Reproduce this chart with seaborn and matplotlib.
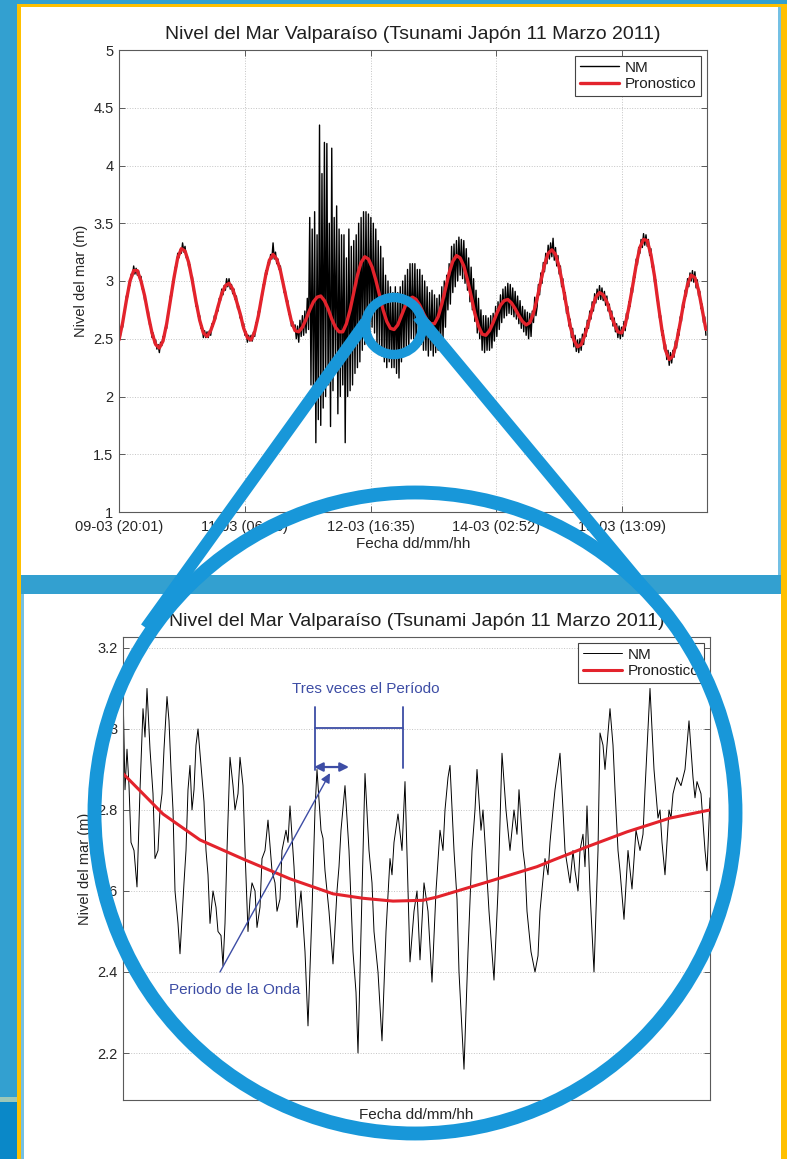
import numpy as np
import pandas as pd
import matplotlib
matplotlib.use("Agg")
import matplotlib.pyplot as plt
import seaborn as sns
from matplotlib.patches import Rectangle, Ellipse
from matplotlib.lines import Line2D
from matplotlib.ticker import FuncFormatter

# ---------------- data ----------------
title_text = "Nivel del Mar Valparaíso (Tsunami Japón 11 Marzo 2011)"
ylabel_text = "Nivel del mar (m)"
xlabel_text = "Fecha dd/mm/hh"
series_names = ["NM", "Pronostico"]

top_tick_hours = [0, 34.283, 68.567, 102.85, 137.133]
top_tick_labels = ["09-03 (20:01)", "11-03 (06:18)", "12-03 (16:35)",
                   "14-03 (02:52)", "15-03 (13:09)"]
top_yticks = [1, 1.5, 2, 2.5, 3, 3.5, 4, 4.5, 5]
zoom_yticks = [2.2, 2.4, 2.6, 2.8, 3.0, 3.2]

# Pronostico, one value per hour from 09-03 20:01
forecast_hourly = [
    2.49, 2.64, 2.83, 3.00, 3.09, 3.09, 3.00, 2.87, 2.70, 2.55,
    2.45, 2.42, 2.48, 2.63, 2.83, 3.03, 3.20, 3.28, 3.26, 3.16,
    3.00, 2.82, 2.66, 2.55, 2.52, 2.57, 2.66, 2.78, 2.89, 2.96,
    2.98, 2.93, 2.83, 2.72, 2.59, 2.51, 2.49, 2.56, 2.70, 2.88,
    3.05, 3.18, 3.23, 3.19, 3.09, 2.94, 2.79, 2.65, 2.57, 2.56,
    2.60, 2.67, 2.75, 2.82, 2.86, 2.87, 2.83, 2.76, 2.67, 2.60,
    2.56, 2.56, 2.63, 2.75, 2.90, 3.05, 3.16, 3.21, 3.19, 3.12,
    3.01, 2.88, 2.75, 2.65, 2.59, 2.58, 2.62, 2.70, 2.78, 2.84,
    2.86, 2.84, 2.79, 2.72, 2.66, 2.63, 2.63, 2.69, 2.80, 2.93,
    3.07, 3.17, 3.22, 3.20, 3.13, 3.01, 2.87, 2.72, 2.61, 2.54,
    2.53, 2.57, 2.64, 2.72, 2.79, 2.83, 2.84, 2.81, 2.76, 2.70,
    2.65, 2.62, 2.64, 2.72, 2.85, 3.00, 3.14, 3.24, 3.27, 3.23,
    3.12, 2.96, 2.78, 2.61, 2.49, 2.43, 2.45, 2.53, 2.64, 2.76,
    2.86, 2.90, 2.88, 2.82, 2.72, 2.63, 2.56, 2.55, 2.62, 2.77,
    2.95, 3.14, 3.29, 3.36, 3.35, 3.23, 3.04, 2.80, 2.58, 2.40,
    2.32, 2.35, 2.47, 2.64, 2.82, 2.97, 3.05, 3.03, 2.92, 2.75,
    2.58,
]

# NM (measured sea level), three readings per hour (every 20 min)
nm_level = [
    2.53, 2.51, 2.61, 2.60, 2.73, 2.75, 2.87, 2.86, 2.96, 2.96, 3.06, 3.04,
    3.13, 3.06, 3.11, 3.05, 3.09, 3.01, 3.04, 2.93, 2.93, 2.83, 2.84, 2.74,
    2.74, 2.62, 2.62, 2.51, 2.55, 2.46, 2.49, 2.41, 2.45, 2.38, 2.47, 2.44,
    2.52, 2.50, 2.60, 2.59, 2.73, 2.74, 2.87, 2.87, 2.98, 2.99, 3.12, 3.12,
    3.24, 3.20, 3.27, 3.24, 3.33, 3.25, 3.30, 3.20, 3.21, 3.12, 3.14, 3.03,
    3.04, 2.91, 2.90, 2.78, 2.80, 2.69, 2.70, 2.59, 2.61, 2.51, 2.57, 2.51,
    2.56, 2.51, 2.57, 2.53, 2.63, 2.61, 2.70, 2.67, 2.76, 2.74, 2.85, 2.83,
    2.93, 2.88, 2.96, 2.92, 3.02, 2.95, 3.02, 2.93, 2.97, 2.89, 2.93, 2.84,
    2.87, 2.76, 2.78, 2.68, 2.71, 2.61, 2.63, 2.53, 2.56, 2.47, 2.53, 2.48,
    2.53, 2.48, 2.56, 2.52, 2.64, 2.63, 2.74, 2.73, 2.84, 2.84, 2.97, 2.97,
    3.09, 3.06, 3.16, 3.14, 3.23, 3.19, 3.33, 3.19, 3.25, 3.15, 3.19, 3.10,
    3.13, 3.01, 3.01, 2.90, 2.92, 2.82, 2.83, 2.71, 2.72, 2.61, 2.65, 2.58,
    2.62, 2.50, 2.61, 2.47, 2.66, 2.52, 2.70, 2.53, 2.74, 2.55, 2.85, 2.58,
    3.55, 2.10, 3.45, 1.95, 3.60, 1.60, 3.40, 1.80, 4.35, 1.75, 3.93, 1.90,
    4.20, 2.00, 4.19, 2.10, 3.50, 1.74, 4.15, 2.05, 3.55, 2.30, 3.65, 1.85,
    3.45, 2.00, 3.40, 2.10, 3.40, 1.60, 3.20, 2.00, 3.45, 2.05, 3.30, 2.10,
    3.35, 2.20, 3.40, 2.25, 3.50, 2.30, 3.55, 2.40, 3.60, 2.45, 3.60, 2.50,
    3.58, 2.55, 3.55, 2.60, 3.50, 2.55, 3.45, 2.45, 3.35, 2.40, 3.30, 2.35,
    3.20, 2.30, 3.05, 2.25, 3.00, 2.30, 2.95, 2.25, 2.90, 2.25, 2.95, 2.20,
    2.90, 2.16, 2.95, 2.30, 3.00, 2.35, 3.05, 2.40, 3.10, 2.40, 3.15, 2.50,
    3.15, 2.50, 3.15, 2.45, 3.10, 2.50, 3.10, 2.45, 3.05, 2.40, 3.00, 2.40,
    2.95, 2.35, 2.90, 2.40, 2.92, 2.35, 2.88, 2.38, 2.85, 2.40, 2.88, 2.45,
    2.95, 2.50, 3.00, 2.60, 3.05, 2.75, 3.15, 2.80, 3.30, 2.90, 3.32, 2.95,
    3.35, 3.00, 3.38, 3.05, 3.36, 3.02, 3.35, 2.98, 3.28, 2.92, 3.20, 2.82,
    3.12, 2.75, 3.02, 2.65, 2.92, 2.55, 2.85, 2.50, 2.75, 2.40, 2.70, 2.38,
    2.70, 2.40, 2.68, 2.40, 2.70, 2.42, 2.72, 2.48, 2.78, 2.52, 2.82, 2.58,
    2.88, 2.64, 2.93, 2.68, 2.95, 2.70, 2.98, 2.72, 2.97, 2.71, 2.94, 2.69,
    2.91, 2.67, 2.87, 2.63, 2.83, 2.59, 2.78, 2.56, 2.75, 2.53, 2.73, 2.50,
    2.72, 2.52, 2.74, 2.64, 2.86, 2.70, 2.78, 2.97, 2.88, 3.07, 2.98, 3.16,
    3.08, 3.24, 3.15, 3.31, 3.19, 3.33, 3.21, 3.37, 3.18, 3.29, 3.13, 3.22,
    3.06, 3.13, 2.95, 3.02, 2.84, 2.90, 2.72, 2.78, 2.61, 2.67, 2.51, 2.59,
    2.43, 2.53, 2.39, 2.49, 2.38, 2.50, 2.40, 2.54, 2.45, 2.59, 2.52, 2.66,
    2.59, 2.74, 2.67, 2.82, 2.74, 2.89, 2.81, 2.93, 2.84, 2.96, 2.84, 2.94,
    2.83, 2.91, 2.79, 2.87, 2.74, 2.80, 2.67, 2.74, 2.61, 2.68, 2.56, 2.63,
    2.51, 2.61, 2.50, 2.60, 2.52, 2.65, 2.57, 2.72, 2.67, 2.82, 2.78, 2.94,
    2.90, 3.06, 3.03, 3.19, 3.14, 3.29, 3.24, 3.36, 3.29, 3.41, 3.31, 3.40,
    3.30, 3.36, 3.22, 3.28, 3.12, 3.15, 2.99, 3.01, 2.83, 2.85, 2.68, 2.70,
    2.53, 2.57, 2.41, 2.45, 2.32, 2.40, 2.27, 2.38, 2.29, 2.40, 2.34, 2.48,
    2.42, 2.58, 2.53, 2.69, 2.65, 2.81, 2.77, 2.92, 2.87, 3.02, 2.95, 3.07,
    3.00, 3.09, 2.99, 3.08, 2.94, 3.01, 2.87, 2.91, 2.76, 2.80, 2.64, 2.69,
    2.53,
]

# Zoomed window (bottom panel): minutes from window start and NM readings
zoom_nm_min = [
    0, 2, 4, 6, 8, 11, 14, 17, 20, 22,
    24, 27, 30, 32, 35, 37, 39, 41, 44, 46,
    48, 50, 52, 55, 57, 61, 63, 65, 67, 69,
    71, 73, 75, 79, 81, 83, 85, 87, 90, 93,
    95, 98, 100, 102, 104, 107, 110, 112, 115, 117,
    120, 122, 125, 127, 129, 132, 134, 137, 139, 142,
    145, 149, 152, 154, 157, 159, 163, 165, 167, 171,
    174, 178, 182, 185, 189, 192, 194, 198, 200, 202,
    206, 210, 214, 216, 218, 222, 226, 230, 233, 235,
    239, 242, 246, 249, 251, 255, 259, 263, 267, 269,
    271, 275, 279, 282, 285, 287, 291, 294, 297, 301,
    305, 309, 313, 317, 320, 322, 325, 327, 331, 334,
    336, 341, 345, 349, 352, 354, 358, 360, 362, 366,
    371, 375, 379, 383, 387, 391, 394, 396, 400, 402,
    404, 408, 412, 415, 417, 420, 422, 425, 427, 430,
    432, 437, 440, 442, 447, 450, 452, 455, 457, 460,
    462, 464, 467, 471, 475, 477, 480, 482, 487, 490,
    492, 495, 497, 501, 505, 509, 513, 517, 520, 522,
    527, 531, 535, 537, 539, 542, 546, 548, 550, 554,
    558, 562, 566, 570, 572, 574, 578, 582, 584, 587,
]
zoom_nm = [
    3.10, 2.85, 2.95, 2.86, 2.72, 2.70, 2.61, 2.85, 3.05, 2.98,
    3.10, 2.95, 2.84, 2.68, 2.70, 2.80, 2.84, 2.95, 3.08, 3.02,
    2.90, 2.80, 2.60, 2.52, 2.445, 2.62, 2.70, 2.85, 2.91, 2.80,
    2.85, 2.96, 3.00, 2.88, 2.82, 2.70, 2.64, 2.52, 2.60, 2.56,
    2.50, 2.49, 2.415, 2.52, 2.70, 2.93, 2.86, 2.80, 2.84, 2.93,
    2.86, 2.70, 2.50, 2.58, 2.62, 2.60, 2.51, 2.56, 2.68, 2.70,
    2.775, 2.65, 2.62, 2.55, 2.58, 2.70, 2.75, 2.72, 2.81, 2.66,
    2.51, 2.60, 2.45, 2.267, 2.55, 2.80, 2.90, 2.75, 2.73, 2.65,
    2.55, 2.42, 2.60, 2.66, 2.75, 2.86, 2.70, 2.45, 2.35, 2.20,
    2.60, 2.89, 2.70, 2.62, 2.50, 2.40, 2.23, 2.50, 2.68, 2.64,
    2.72, 2.79, 2.70, 2.87, 2.60, 2.425, 2.55, 2.60, 2.43, 2.62,
    2.55, 2.375, 2.60, 2.75, 2.70, 2.80, 2.88, 2.91, 2.70, 2.58,
    2.40, 2.16, 2.45, 2.70, 2.80, 2.90, 2.75, 2.80, 2.72, 2.55,
    2.38, 2.60, 2.94, 2.80, 2.70, 2.80, 2.74, 2.85, 2.70, 2.66,
    2.55, 2.45, 2.40, 2.44, 2.55, 2.63, 2.68, 2.64, 2.72, 2.80,
    2.85, 2.94, 2.80, 2.70, 2.62, 2.70, 2.65, 2.60, 2.70, 2.74,
    2.66, 2.81, 2.60, 2.40, 2.70, 2.99, 2.96, 2.90, 3.05, 2.96,
    2.85, 2.70, 2.65, 2.53, 2.70, 2.605, 2.75, 2.70, 2.74, 2.85,
    3.10, 2.90, 2.78, 2.80, 2.72, 2.64, 2.80, 2.78, 2.84, 2.88,
    2.86, 2.90, 3.02, 2.88, 2.83, 2.87, 2.84, 2.70, 2.65, 2.83,
]
zoom_fc_min = [0, 40, 77, 120, 167, 210, 240, 270, 300, 314, 364, 414, 431, 464,
               504, 547, 587]
zoom_fc = [2.89, 2.79, 2.726, 2.679, 2.63, 2.593, 2.582, 2.575, 2.577, 2.585,
           2.622, 2.66, 2.677, 2.709, 2.746, 2.78, 2.80]

# ---------------- style ----------------
W, H = 787, 1159
BG = "#33A0D0"
YEL = "#FFC000"
RING = "#1897D9"
RED = "#E3232C"
ANN = "#3D4DA5"
EDGE = "#5a5a5a"

sns.set_theme(style="white")
plt.rcParams['font.family'] = ['Liberation Sans', 'DejaVu Sans']

fig = plt.figure(figsize=(W / 100, H / 100), dpi=100)
fig.patch.set_facecolor(BG)


def fx(x):
    return x / W


def fy(y):
    return 1 - y / H


def rect(x0, y0, x1, y1, color, z=-5):
    fig.add_artist(Rectangle((fx(x0), fy(y1)), (x1 - x0) / W, (y1 - y0) / H,
                             transform=fig.transFigure, facecolor=color,
                             edgecolor='none', zorder=z))


# panels and frame
rect(17, 4, 787, 7, YEL)
rect(17, 4, 21, H, YEL)
rect(781, 4, 787, H, YEL)
rect(21, 7, 778, 575, "white")
rect(778, 7, 781, 575, "#74C0E4")
rect(24, 594, 781, H, "white")
rect(21, 594, 24, H, "#74C0E4")
rect(0, 1097, 17, 1102, "#9CC7B8")
rect(0, 1102, 17, H, "#0A88C8")

ax1 = fig.add_axes([fx(119), fy(512), (707 - 119) / W, (512 - 50) / H])
ax2 = fig.add_axes([fx(123), fy(1100), (710 - 123) / W, (1100 - 637) / H])

fmt = FuncFormatter(lambda v, p: f"{v:g}")


def style_axes(ax):
    ax.set_facecolor("white")
    for s in ax.spines.values():
        s.set_visible(True)
        s.set_color(EDGE)
        s.set_linewidth(0.8)
    ax.grid(True, linestyle=':', color='#c4c4c4', linewidth=0.7)
    ax.set_axisbelow(True)
    ax.yaxis.set_major_formatter(fmt)


# ---- top panel ----
top_nm = pd.DataFrame({"hora": np.arange(len(nm_level)) / 3.0, "nivel": nm_level})
top_fc = pd.DataFrame({"hora": np.arange(len(forecast_hourly)), "nivel": forecast_hourly})
sns.lineplot(data=top_nm, x="hora", y="nivel", ax=ax1, color="black", linewidth=1.0,
             label=series_names[0], estimator=None, sort=False)
sns.lineplot(data=top_fc, x="hora", y="nivel", ax=ax1, color=RED, linewidth=2.4,
             label=series_names[1], estimator=None, sort=False)
style_axes(ax1)
ax1.set_xlim(0, 160.3)
ax1.set_ylim(1, 5)
ax1.set_yticks(top_yticks)
ax1.set_xticks(top_tick_hours)
ax1.set_xticklabels(top_tick_labels)
ax1.tick_params(direction='in', length=4, width=0.7, colors=EDGE, labelcolor='#262626',
                labelsize=10.5, top=True, right=True, bottom=True, left=True, pad=4)
ax1.tick_params(axis='x', pad=6)
ax1.set_title(title_text, fontsize=14, pad=8, color='#1f1f1f')
ax1.set_ylabel(ylabel_text, fontsize=10.5, color='#262626', labelpad=4)
ax1.set_xlabel(xlabel_text, fontsize=11, color='#262626', labelpad=2)

# ---- bottom (zoom) panel ----
bot_nm = pd.DataFrame({"minuto": zoom_nm_min, "nivel": zoom_nm})
bot_fc = pd.DataFrame({"minuto": zoom_fc_min, "nivel": zoom_fc})
sns.lineplot(data=bot_nm, x="minuto", y="nivel", ax=ax2, color="black", linewidth=0.7,
             label=series_names[0], estimator=None, sort=False)
sns.lineplot(data=bot_fc, x="minuto", y="nivel", ax=ax2, color=RED, linewidth=2.2,
             label=series_names[1], estimator=None, sort=False)
style_axes(ax2)
ax2.set_xlim(0, 587)
ax2.set_ylim(2.084, 3.227)
ax2.set_yticks(zoom_yticks)
ax2.set_xticks([])
ax2.tick_params(axis='y', direction='in', length=4, width=0.7, colors=EDGE,
                labelcolor='#262626', labelsize=10.5, left=True, right=True, pad=4)
ax2.set_title(title_text, fontsize=14, pad=8, color='#1f1f1f')
ax2.set_ylabel(ylabel_text, fontsize=10.5, color='#262626', labelpad=4)
ax2.set_xlabel(xlabel_text, fontsize=11, color='#262626', labelpad=6)

for ax in (ax1, ax2):
    leg = ax.legend(loc='upper right', fontsize=11, frameon=True, fancybox=False,
                    framealpha=1, edgecolor='#444444', borderaxespad=0.4,
                    handlelength=2.6, handletextpad=0.35, labelspacing=0.15,
                    borderpad=0.3)
    leg.get_frame().set_linewidth(0.8)
    for t in leg.get_texts():
        t.set_color('#1f1f1f')

# annotations in the zoom panel
ax2.text(243, 3.099, "Tres veces el Período", ha='center', va='center',
         color=ANN, fontsize=11)
ax2.add_line(Line2D([192, 192], [3.054, 2.899], color=ANN, lw=1.3))
ax2.add_line(Line2D([280, 280], [3.054, 2.904], color=ANN, lw=1.3))
ax2.add_line(Line2D([192, 280], [3.002, 3.002], color=ANN, lw=1.3))
ax2.annotate('', xy=(226, 2.906), xytext=(191, 2.906),
             arrowprops=dict(arrowstyle='<|-|>', color=ANN, lw=1.6, mutation_scale=13,
                             shrinkA=0, shrinkB=0))
ax2.annotate('', xy=(207, 2.891), xytext=(97, 2.40),
             arrowprops=dict(arrowstyle='-|>', color=ANN, lw=1.0, mutation_scale=14,
                             shrinkA=0, shrinkB=0))
ax2.text(112, 2.356, "Periodo de la Onda", ha='center', va='center',
         color=ANN, fontsize=11)

# ---------------- magnifier overlay ----------------
def ring(cx, cy, r, lw):
    fig.add_artist(Ellipse((fx(cx), fy(cy)), 2 * r / W, 2 * r / H, fill=False,
                           edgecolor=RING, linewidth=lw, transform=fig.transFigure,
                           zorder=10))


def bar(x0, y0, x1, y1, lw):
    fig.add_artist(Line2D([fx(x0), fx(x1)], [fy(y0), fy(y1)], transform=fig.transFigure,
                          color=RING, lw=lw, zorder=10, solid_capstyle='butt'))


bar(366, 322, 146, 628, 8.8)
bar(418, 316, 660, 607, 8.8)
ring(394, 326, 28.5, 6.8)
ring(415, 813, 320.5, 10.0)

fig.savefig("out.png", dpi=100, facecolor=BG)
